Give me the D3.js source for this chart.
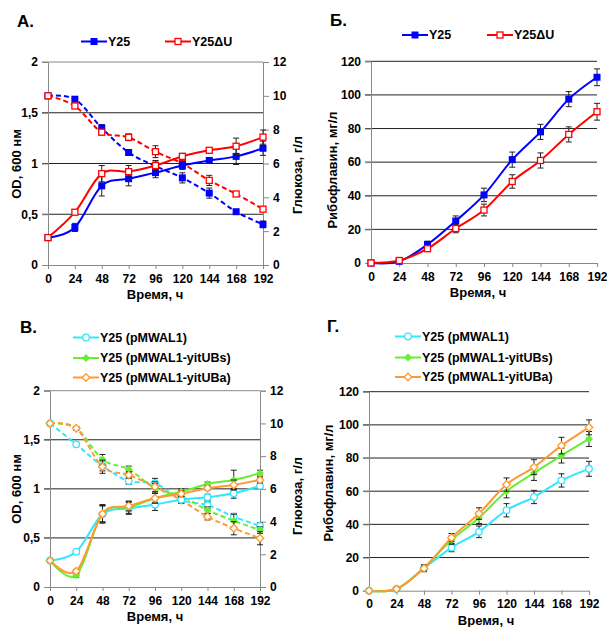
<!DOCTYPE html>
<html><head><meta charset="utf-8">
<script src="https://cdn.jsdelivr.net/npm/d3@7"></script>
<style>body{margin:0;background:#fff}svg{display:block}text{font-family:"Liberation Sans",Arial,sans-serif;font-weight:bold;fill:#000}</style>
</head><body>
<script>
// ---- data ----
const hours = [0,24,48,72,96,120,144,168,192];
const xTicks = [0,24,48,72,96,120,144,168,192];
const odTicks = [0,0.5,1,1.5,2];
const odTickLabels = ["0","0,5","1","1,5","2"];
const glcTicks = [0,2,4,6,8,10,12];
const rfTicks = [0,20,40,60,80,100,120];

// Panel A
const odY25 = [0.27,0.37,0.78,0.85,0.91,0.98,1.03,1.07,1.15];
const odY25Err = [0,0.04,0.10,0.07,0.05,0.04,0.02,0.08,0.07];
const odY25dU = [0.27,0.52,0.90,0.92,0.98,1.07,1.13,1.17,1.26];
const odY25dUErr = [0,0.02,0.08,0.06,0.05,0.03,0.02,0.08,0.07];
const glcY25 = [10,9.8,8.1,6.65,5.85,5.15,4.25,3.15,2.4];
const glcY25Err = [0,0.1,0.2,0.1,0.3,0.3,0.3,0.1,0.2];
const glcY25dU = [10,9.4,7.85,7.55,6.7,6.0,5.0,4.2,3.3];
const glcY25dUErr = [0,0.1,0.15,0.2,0.35,0.3,0.3,0.1,0.1];

// Panel B (Б)
const rfY25 = [0,1,11,25,40.5,61.5,78,97.5,110.5];
const rfY25Err = [0,0.5,2,3,4,4.5,4.5,4.5,5];
const rfY25dU = [0,1.5,8.5,20.5,31.5,48.5,61,76.5,90];
const rfY25dUErr = [0,0.5,1.5,2.5,3.5,4,4.5,4.5,5];

// Panel В
const odP = [0.27,0.36,0.74,0.80,0.84,0.89,0.915,0.955,1.03];
const odPErr = [0,0.02,0.09,0.06,0.06,0.03,0.03,0.05,0.03];
const odS = [0.27,0.12,0.75,0.81,0.905,0.97,1.05,1.09,1.16];
const odSErr = [0,0.02,0.09,0.06,0.05,0.03,0.02,0.10,0.03];
const odA = [0.27,0.16,0.745,0.826,0.905,0.95,1.007,1.04,1.09];
const odAErr = [0,0.02,0.08,0.05,0.05,0.03,0.02,0.05,0.03];
const glcP = [10,8.72,7.4,6.48,6.34,5.32,5.01,4.3,3.73];
const glcPErr = [0,0.1,0.3,0.2,0.3,0.2,0.2,0.2,0.2];
const glcS = [10,9.7,7.8,7.19,6.03,5.55,4.7,4.05,3.48];
const glcSErr = [0,0.1,0.3,0.2,0.3,0.2,0.2,0.4,0.2];
const glcA = [10,9.7,7.35,6.85,6.13,5.32,4.3,3.59,2.98];
const glcAErr = [0,0.1,0.4,0.2,0.3,0.2,0.2,0.4,0.4];

// Panel Г
const rfP = [0,1,13.5,26,35.5,48.5,56.5,66.5,73.5];
const rfPErr = [0,0.5,1.5,2.5,3.5,4,4,4,4.5];
const rfS = [0,1,14,30.5,44,60,71,81.5,91.5];
const rfSErr = [0,0.5,1.5,2.5,3.5,4,4.5,4.5,4.5];
const rfA = [0,1,13.5,32,46.5,64,74.5,87.5,98.5];
const rfAErr = [0,0.5,2,2.5,3.5,4,4.5,5,4.5];

const BLUE="#0000ff", RED="#ff0000", CYAN="#33e6ff", GREEN="#66ee33", ORANGE="#ff9933";

const svg = d3.select("body").append("svg").attr("width",607).attr("height",627);
const curve = d3.curveCardinal.tension(0);

function marker(g, type, color, x, y){
  if(type==="sqF") g.append("rect").attr("x",x-3.5).attr("y",y-3.5).attr("width",7).attr("height",7).attr("fill",color);
  else if(type==="sqO") g.append("rect").attr("x",x-3).attr("y",y-3).attr("width",6).attr("height",6).attr("fill","#fff").attr("stroke",color).attr("stroke-width",1.3);
  else if(type==="ciO") g.append("circle").attr("cx",x).attr("cy",y).attr("r",3.3).attr("fill","#fff").attr("stroke",color).attr("stroke-width",1.3);
  else if(type==="diF") g.append("path").attr("d",`M${x},${y-4}L${x+4},${y}L${x},${y+4}L${x-4},${y}Z`).attr("fill",color);
  else if(type==="diO") g.append("path").attr("d",`M${x},${y-3.8}L${x+3.8},${y}L${x},${y+3.8}L${x-3.8},${y}Z`).attr("fill","#fff").attr("stroke",color).attr("stroke-width",1.3);
}

function series(g, x, y, vals, errs, color, type, dashed){
  const pts = hours.map((h,i)=>[h,vals[i],errs[i]]);
  // error bars
  const eg = g.append("g").attr("stroke","#222").attr("stroke-width",1);
  pts.forEach(p=>{ if(p[2]>0){
    const cx=x(p[0]), y1=y(p[1]-p[2]), y2=y(p[1]+p[2]);
    eg.append("line").attr("x1",cx).attr("x2",cx).attr("y1",y1).attr("y2",y2);
    eg.append("line").attr("x1",cx-3).attr("x2",cx+3).attr("y1",y1).attr("y2",y1);
    eg.append("line").attr("x1",cx-3).attr("x2",cx+3).attr("y1",y2).attr("y2",y2);
  }});
  g.append("path").datum(pts).attr("fill","none").attr("stroke",color).attr("stroke-width",2)
    .attr("stroke-dasharray",dashed?"5,3":null)
    .attr("d",d3.line().x(d=>x(d[0])).y(d=>y(d[1])).curve(curve));
  pts.forEach(p=>marker(g,type,color,x(p[0]),y(p[1])));
}

function frame(o){
  const g = svg.append("g");
  const x = d3.scaleLinear().domain([0,192]).range([o.x0,o.x1]);
  const y = d3.scaleLinear().domain([0,o.ymax]).range([o.y0,o.y1]);
  // gridlines
  o.yTicks.forEach(t=>{ if(t>0){
    g.append("line").attr("x1",o.x0-6).attr("x2",o.x1).attr("y1",y(t)).attr("y2",y(t))
      .attr("stroke",(t===o.ymax && o.rightAxis)?"#888":"#222").attr("stroke-width",1);
  }});
  // left axis
  const la = g.append("g").attr("transform",`translate(${o.x0},0)`)
    .call(d3.axisLeft(y).tickValues(o.yTicks).tickSize(6).tickPadding(4).tickFormat((d,i)=>o.yLabels[i]));
  la.select(".domain").attr("stroke","#888");
  la.selectAll(".tick line").attr("stroke","#888");
  la.selectAll("text").style("font-size","12px").style("font-family","Liberation Sans, Arial").style("font-weight","bold");
  // bottom axis
  const ba = g.append("g").attr("transform",`translate(0,${o.y0})`)
    .call(d3.axisBottom(x).tickValues(xTicks).tickSize(4).tickPadding(5));
  ba.select(".domain").attr("stroke","#888");
  ba.selectAll(".tick line").attr("stroke","#888");
  ba.selectAll("text").style("font-size","12px").style("font-family","Liberation Sans, Arial").style("font-weight","bold");
  let y2 = null;
  if(o.rightAxis){
    y2 = d3.scaleLinear().domain([0,12]).range([o.y0,o.y1]);
    const ra = g.append("g").attr("transform",`translate(${o.x1},0)`)
      .call(d3.axisRight(y2).tickValues(glcTicks).tickSize(6).tickPadding(4));
    ra.select(".domain").attr("stroke","#888");
    ra.selectAll(".tick line").attr("stroke","#888");
    ra.selectAll("text").style("font-size","12px").style("font-family","Liberation Sans, Arial").style("font-weight","bold");
    g.append("text").attr("transform",`translate(${o.rlx},${o.rly}) rotate(-90)`).attr("text-anchor","middle")
      .attr("dy","0.35em").style("font-size","13px").text("Глюкоза, г/л");
  }
  // titles
  g.append("text").attr("x",o.tx).attr("y",o.ty).style("font-size","17px").text(o.title);
  g.append("text").attr("x",o.xlx).attr("y",o.y0+34).attr("text-anchor","middle").style("font-size","13px").text("Время, ч");
  g.append("text").attr("transform",`translate(${o.llx},${o.lly}) rotate(-90)`).attr("text-anchor","middle")
    .attr("dy","0.35em").style("font-size","13px").text(o.yTitle);
  return {g,x,y,y2};
}

function legendItem(g, lx, ly, color, type, label){
  g.append("line").attr("x1",lx).attr("x2",lx+26).attr("y1",ly).attr("y2",ly).attr("stroke",color).attr("stroke-width",2);
  marker(g,type,color,lx+13,ly);
  g.append("text").attr("x",lx+27).attr("y",ly).attr("dy","0.35em").style("font-size","12.5px").text(label);
}

// Panel A
{
  const p = frame({x0:48,x1:263,y0:265,y1:62,ymax:2,yTicks:odTicks,yLabels:odTickLabels,rightAxis:true,
    title:"А.",tx:17,ty:27,xlx:155,llx:16,lly:164,yTitle:"OD, 600 нм",rlx:297,rly:175});
  series(p.g,p.x,p.y2,glcY25,glcY25Err,BLUE,"sqF",true);
  series(p.g,p.x,p.y2,glcY25dU,glcY25dUErr,RED,"sqO",true);
  series(p.g,p.x,p.y,odY25,odY25Err,BLUE,"sqF",false);
  series(p.g,p.x,p.y,odY25dU,odY25dUErr,RED,"sqO",false);
  legendItem(p.g,81,41.5,BLUE,"sqF","Y25");
  legendItem(p.g,165,41.5,RED,"sqO","Y25ΔU");
}
// Panel Б
{
  const p = frame({x0:371,x1:597,y0:263,y1:61.3,ymax:120,yTicks:rfTicks,yLabels:rfTicks.map(String),rightAxis:false,
    title:"Б.",tx:330,ty:26,xlx:478,llx:332,lly:170,yTitle:"Рибофлавин, мг/л"});
  series(p.g,p.x,p.y,rfY25,rfY25Err,BLUE,"sqF",false);
  series(p.g,p.x,p.y,rfY25dU,rfY25dUErr,RED,"sqO",false);
  legendItem(p.g,402,35,BLUE,"sqF","Y25");
  legendItem(p.g,487,35,RED,"sqO","Y25ΔU");
}
// Panel В
{
  const p = frame({x0:50,x1:260,y0:587,y1:390.7,ymax:2,yTicks:odTicks,yLabels:odTickLabels,rightAxis:true,
    title:"В.",tx:20,ty:333,xlx:155,llx:16,lly:489,yTitle:"OD, 600 нм",rlx:297,rly:496});
  series(p.g,p.x,p.y2,glcP,glcPErr,CYAN,"ciO",true);
  series(p.g,p.x,p.y2,glcS,glcSErr,GREEN,"diF",true);
  series(p.g,p.x,p.y2,glcA,glcAErr,ORANGE,"diO",true);
  series(p.g,p.x,p.y,odP,odPErr,CYAN,"ciO",false);
  series(p.g,p.x,p.y,odS,odSErr,GREEN,"diF",false);
  series(p.g,p.x,p.y,odA,odAErr,ORANGE,"diO",false);
  legendItem(p.g,73,337.5,CYAN,"ciO","Y25 (pMWAL1)");
  legendItem(p.g,73,358,GREEN,"diF","Y25 (pMWAL1-yitUBs)");
  legendItem(p.g,73,377.5,ORANGE,"diO","Y25 (pMWAL1-yitUBa)");
}
// Panel Г
{
  const p = frame({x0:369,x1:589,y0:590.7,y1:391.7,ymax:120,yTicks:rfTicks,yLabels:rfTicks.map(String),rightAxis:false,
    title:"Г.",tx:327,ty:332,xlx:486,llx:328,lly:483,yTitle:"Рибофлавин, мг/л"});
  series(p.g,p.x,p.y,rfP,rfPErr,CYAN,"ciO",false);
  series(p.g,p.x,p.y,rfS,rfSErr,GREEN,"diF",false);
  series(p.g,p.x,p.y,rfA,rfAErr,ORANGE,"diO",false);
  legendItem(p.g,395,336.5,CYAN,"ciO","Y25 (pMWAL1)");
  legendItem(p.g,395,357.5,GREEN,"diF","Y25 (pMWAL1-yitUBs)");
  legendItem(p.g,395,377,ORANGE,"diO","Y25 (pMWAL1-yitUBa)");
}
</script>
</body></html>
